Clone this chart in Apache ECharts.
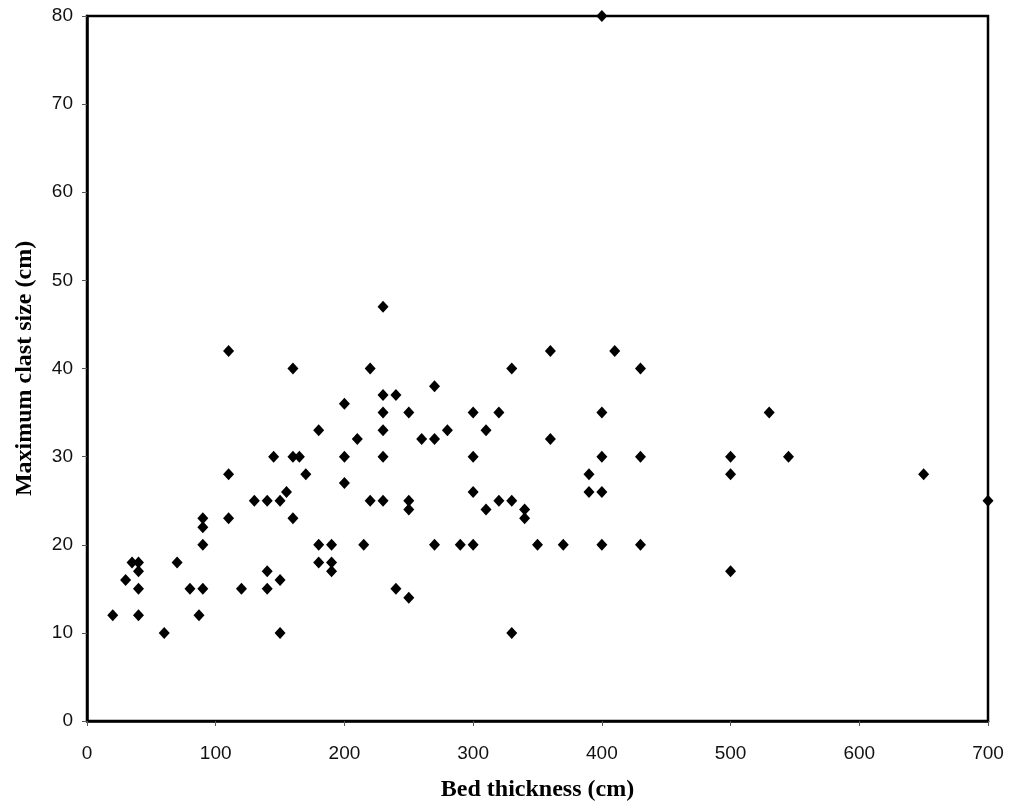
<!DOCTYPE html>
<html>
<head>
<meta charset="utf-8">
<script src="https://cdn.jsdelivr.net/npm/echarts@6/dist/echarts.min.js"></script>
<style>html,body{margin:0;padding:0;background:#fff;}#c{width:1010px;height:804px;}</style>
</head>
<body>
<div id="c"></div>
<script>
var bedThickness = [20,30,35,40,40,40,40,60,70,80,87,90,90,90,90,110,110,110,120,130,140,150,140,140,150,150,145,155,160,160,165,170,160,180,180,180,
  230,220,330,270,200,230,240,230,250,300,320,230,210,260,270,280,310,200,230,300,200,220,230,250,250,300,310,320,330,340,340,190,190,190,215,270,290,300,350,240,250,330,
  360,410,430,400,530,360,400,430,500,545,390,500,650,390,400,370,400,430,500,700,400];
var maxClastSize = [12,16,18,18,17,15,12,10,18,15,12,15,20,22,23,42,28,23,15,25,25,25,17,15,16,10,30,26,40,30,30,28,23,33,20,18,
  47,40,40,38,36,37,37,35,35,35,35,33,32,32,32,33,33,30,30,30,27,25,25,25,24,26,24,25,25,24,23,20,18,17,20,20,20,20,20,15,14,10,
  42,42,40,35,35,32,30,30,30,30,28,28,28,26,26,20,20,20,17,25,80];
var xTicks = [0,100,200,300,400,500,600,700];
var yTicks = [0,10,20,30,40,50,60,70,80];

var pts = bedThickness.map(function(x,i){return [x, maxClastSize[i]];});
var chart = echarts.init(document.getElementById('c'));
chart.setOption({
  animation:false,
  backgroundColor:'#fff',
  grid:{left:87,right:22,top:16,bottom:83,outerBoundsMode:'none',containLabel:false,show:true,borderColor:'#000',borderWidth:2.5,backgroundColor:'transparent'},
  xAxis:{
    type:'value',min:xTicks[0],max:xTicks[xTicks.length-1],interval:100,
    name:'Bed thickness (cm)',nameLocation:'middle',nameGap:57,
    nameTextStyle:{fontFamily:'Liberation Serif',fontWeight:'bold',fontSize:24,color:'#000'},
    axisLine:{show:true,lineStyle:{color:'#000',width:2.5}},
    axisTick:{show:true,length:5,lineStyle:{color:'#555',width:1}},
    axisLabel:{fontFamily:'Liberation Sans',fontSize:19,color:'#111',margin:23},
    splitLine:{show:false}
  },
  yAxis:{
    type:'value',min:yTicks[0],max:yTicks[yTicks.length-1],interval:10,
    name:'Maximum clast size (cm)',nameLocation:'middle',nameGap:50,
    nameTextStyle:{fontFamily:'Liberation Serif',fontWeight:'bold',fontSize:24,color:'#000'},
    axisLine:{show:true,lineStyle:{color:'#000',width:2.5}},
    axisTick:{show:true,length:5,lineStyle:{color:'#555',width:1}},
    axisLabel:{fontFamily:'Liberation Sans',fontSize:19,color:'#111',margin:14},
    splitLine:{show:false}
  },
  series:[{
    type:'scatter',data:pts,symbol:'diamond',symbolSize:[11,12],
    itemStyle:{color:'#000',opacity:1},clip:false
  }]
});
</script>
</body>
</html>
